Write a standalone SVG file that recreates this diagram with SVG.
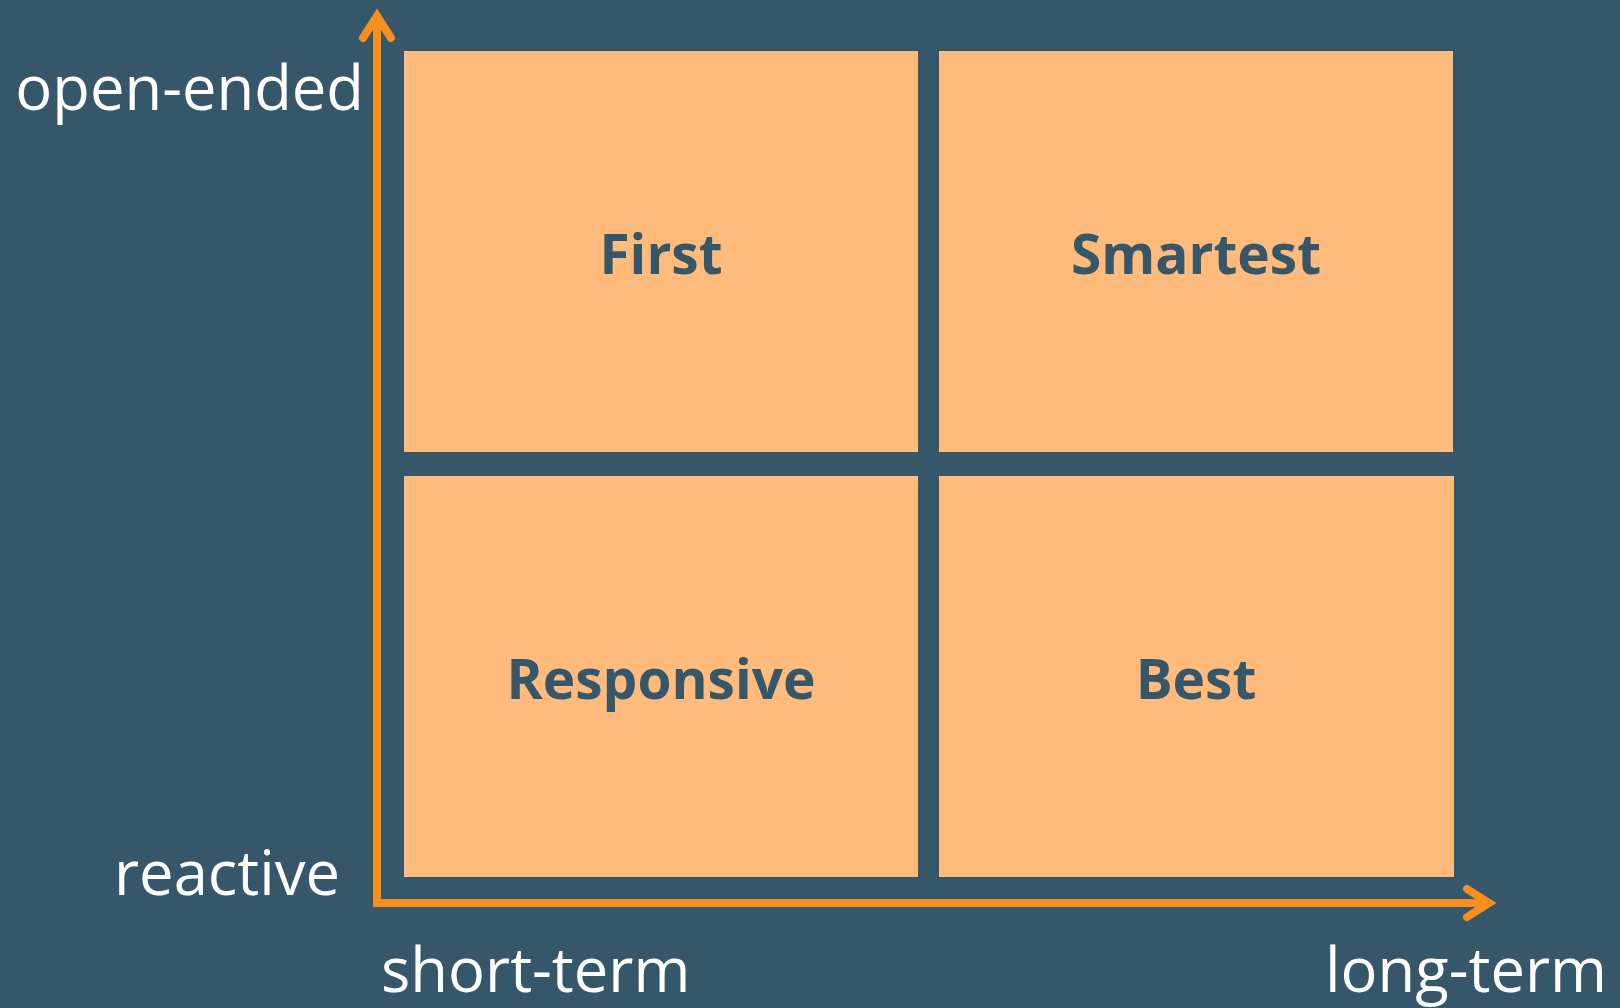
<svg xmlns="http://www.w3.org/2000/svg" width="1620" height="1008" viewBox="0 0 1620 1008">
<style>
.bg{fill:#365669}
.cell{fill:#ffbb7c}
.lbl{font-family:"Open Sans","Noto Sans",sans-serif;font-weight:700;font-size:55px;fill:#365669;text-anchor:middle}
.ax{font-family:"Open Sans","Noto Sans",sans-serif;font-size:61.5px;fill:#ffffff}
.axis{fill:none;stroke:#f78f1e;stroke-width:8}
.head{fill:none;stroke:#f78f1e;stroke-width:8;stroke-linecap:round;stroke-linejoin:miter}
</style>
<rect class="bg" x="0" y="0" width="1620" height="1008"/>
<g id="first"><rect class="cell" x="404" y="51" width="514" height="401"/><text class="lbl" x="661" y="274">First</text></g>
<g id="smartest"><rect class="cell" x="939" y="51" width="514" height="401"/><text class="lbl" x="1196" y="274">Smartest</text></g>
<g id="responsive"><rect class="cell" x="404" y="476" width="514" height="401"/><text class="lbl" x="661" y="699">Responsive</text></g>
<g id="best"><rect class="cell" x="939" y="476" width="515" height="401"/><text class="lbl" x="1196" y="699">Best</text></g>
<g id="connectors">
<path class="axis" d="M377 20 V907"/>
<path class="axis" d="M373 903 H1486"/>
<polyline class="head" points="363,38 377,16 391,38"/>
<polyline class="head" points="1467,889 1489,903 1467,917"/>
</g>
<g id="axis-labels">
<text class="ax" x="364" y="110" text-anchor="end">open-ended</text>
<text class="ax" x="340" y="895" text-anchor="end">reactive</text>
<text class="ax" x="381" y="992">short-term</text>
<text class="ax" x="1607" y="992" text-anchor="end">long-term</text>
</g>
</svg>
